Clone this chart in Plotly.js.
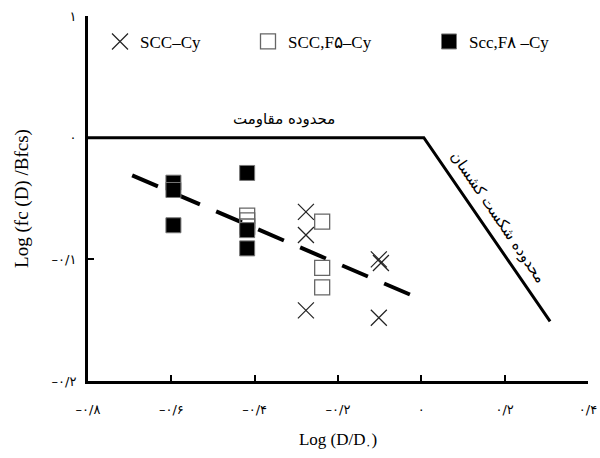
<!DOCTYPE html>
<html>
<head>
<meta charset="utf-8">
<script src="https://cdn.plot.ly/plotly-3.0.1.min.js"></script>
<style>html,body{margin:0;padding:0;background:#fff;}#chart{width:600px;height:458px;}</style>
</head>
<body>
<div id="chart"></div>
<script>
// Series names
var seriesNames = ["SCC\u2013Cy", "SCC,F\u06F5\u2013Cy", "Scc,F\u06F8 \u2013Cy"];

// SCC-Cy (x markers)
var sccX = [-0.277, -0.277, -0.277, -0.102, -0.097, -0.102];
var sccY = [-0.061, -0.080, -0.142, -0.100, -0.103, -0.148];

// SCC,F5-Cy (open squares)
var f5X = [-0.418, -0.418, -0.418, -0.238, -0.238, -0.238];
var f5Y = [-0.064, -0.068, -0.073, -0.069, -0.107, -0.123];

// Scc,F8-Cy (filled squares)
var f8X = [-0.595, -0.595, -0.595, -0.418, -0.418, -0.418];
var f8Y = [-0.037, -0.043, -0.072, -0.029, -0.076, -0.091];

// Trend line (dashed)
var trendX = [-0.694, -0.027];
var trendY = [-0.031, -0.129];

// Boundary line (resistance / elastic failure)
var boundX = [-0.8, 0.006, 0.309];
var boundY = [0, 0, -0.151];

// Tick labels
var xTickVals = [-0.8, -0.6, -0.4, -0.2, 0, 0.2, 0.4];
var xTickText = ["\u2013\u06F0/\u06F8", "\u2013\u06F0/\u06F6", "\u2013\u06F0/\u06F4", "\u2013\u06F0/\u06F2", "\u06F0", "\u06F0/\u06F2", "\u06F0/\u06F4"];
var yTickVals = [-0.2, -0.1, 0, 0.1];
var yTickText = ["\u2013\u06F0/\u06F2", "\u2013\u06F0/\u06F1", "\u06F0", "\u06F1"];

var labelResist = "محدوده مقاومت";
var labelElastic = "محدوده شکست کشسان";

var serif = "Liberation Serif, DejaVu Serif, serif";
var fa = "DejaVu Sans, sans-serif";

var traces = [
  {x: boundX, y: boundY, mode: "lines", line: {color: "#000", width: 3}, showlegend: false, hoverinfo: "skip"},
  {x: trendX, y: trendY, mode: "lines", line: {color: "#000", width: 4, dash: "28px,17.7px"}, showlegend: false, hoverinfo: "skip"},
  {x: sccX, y: sccY, mode: "markers", name: seriesNames[0], legend: "legend",
   marker: {symbol: "x-thin-open", size: 16, color: "#222", line: {color: "#222", width: 1.2}}},
  {x: f5X, y: f5Y, mode: "markers", name: seriesNames[1], legend: "legend2",
   marker: {symbol: "square-open", size: 15, color: "#666", line: {color: "#666", width: 1.3}}},
  {x: f8X, y: f8Y, mode: "markers", name: seriesNames[2], legend: "legend3",
   marker: {symbol: "square", size: 15, color: "#000", line: {color: "#777", width: 1}}}
];

function leg(x) {
  return {x: x, y: 0.929, xanchor: "left", yanchor: "middle", orientation: "h",
          bgcolor: "rgba(0,0,0,0)", font: {family: serif, size: 17, color: "#000"}};
}

var layout = {
  width: 600, height: 458,
  margin: {l: 88, r: 12, t: 16, b: 77},
  paper_bgcolor: "#fff", plot_bgcolor: "#fff",
  showlegend: true,
  legend: leg(0.024),
  legend2: leg(0.32),
  legend3: leg(0.682),
  xaxis: {
    range: [-0.8, 0.4], tickvals: xTickVals, ticktext: xTickText,
    showgrid: false, zeroline: false, showline: true, linecolor: "#000", linewidth: 3,
    ticks: "inside", ticklen: 6, tickwidth: 2, tickcolor: "#000",
    ticklabelstandoff: 14,
    tickfont: {family: fa, size: 13, color: "#000"},
    title: {text: "Log (D/D<sub>\u06F0</sub>)", font: {family: serif, size: 17, color: "#000"}, standoff: 18}
  },
  yaxis: {
    range: [-0.2, 0.1], tickvals: yTickVals, ticktext: yTickText,
    showgrid: false, zeroline: false, showline: true, linecolor: "#000", linewidth: 3,
    ticks: "inside", ticklen: 6, tickwidth: 2, tickcolor: "#000",
    ticklabelstandoff: 6,
    tickfont: {family: fa, size: 13, color: "#000"},
    title: {text: "Log (fc (D) /Bfcs)", font: {family: serif, size: 19, color: "#000"}, standoff: 18}
  },
  annotations: [
    {x: -0.33, y: 0.0155, xref: "x", yref: "y", text: labelResist, showarrow: false,
     font: {family: fa, size: 15, color: "#000"}},
    {x: 0.185, y: -0.065, xref: "x", yref: "y", text: labelElastic, showarrow: false, textangle: 55.6,
     font: {family: fa, size: 15, color: "#000"}}
  ]
};

Plotly.newPlot("chart", traces, layout, {displayModeBar: false, staticPlot: true});
</script>
</body>
</html>
